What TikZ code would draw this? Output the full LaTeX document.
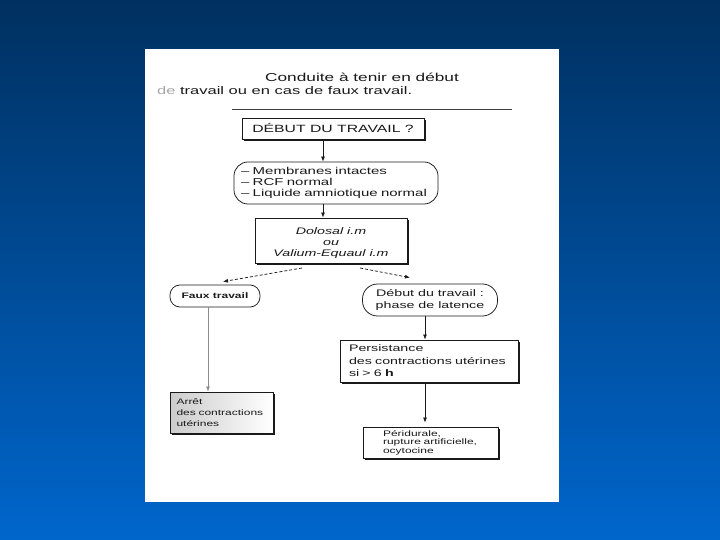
\documentclass[tikz,border=0pt]{standalone}
\usepackage{fontspec}
\setmainfont{Liberation Sans}[FakeStretch=1.5]
\usetikzlibrary{arrows.meta,shadows}
\definecolor{bgtop}{HTML}{003060}
\definecolor{bgbot}{HTML}{0066CC}
\definecolor{ink}{HTML}{1A1A1A}
\tikzset{
  box/.style={draw=ink, line width=0.9pt, fill=white, inner sep=0pt,
    drop shadow={shadow xshift=2.4pt, shadow yshift=-2.4pt, fill=ink, opacity=1}},
  oval/.style={draw=ink, line width=0.75pt, fill=white, inner sep=0pt},
  arr/.style={-{Latex[length=5pt,width=4pt]}, line width=0.75pt, draw=ink},
  darr/.style={arr, dash pattern=on 3pt off 2pt},
}
\begin{document}
\begin{tikzpicture}[x=1pt,y=-1pt, text=ink]
\useasboundingbox (0,0) rectangle (720,540);
\shade[top color=bgtop, bottom color=bgbot] (0,0) rectangle (720,540);
\fill[white] (145,49) rectangle (559,502);

% title
\node[anchor=base west, inner sep=0pt, font=\fontsize{11.5}{13}\selectfont] (t1) at (265,82) {Conduite à tenir en début};
\node[anchor=base west, inner sep=0pt, font=\fontsize{11}{13}\selectfont] (t2) at (157,95) {{\color{black!35}de} travail ou en cas de faux travail.};
\draw[line width=1pt, black!75] (232,110) -- (512,110);

% column coordinates
\coordinate (c1) at (323,0);
\coordinate (c2) at (425,0);
\coordinate (c3) at (208,0);

\node[box, minimum width=182pt, minimum height=21pt, font=\fontsize{10.5}{12}\selectfont] (debut) at (333,128.5) {DÉBUT DU TRAVAIL ?};

\node[oval, rounded corners=14pt, minimum width=204pt, minimum height=42pt, text width=190pt, align=left,
  font=\fontsize{10}{10.8}\selectfont] (memb) at (336,183) {– Membranes intactes\\– RCF normal\\– Liquide amniotique normal};

\node[box, minimum width=152pt, minimum height=45pt, align=center,
  font=\fontsize{9.5}{10.7}\selectfont\itshape] (dolo) at (331,240.5) {\rule{0pt}{12pt}Dolosal i.m\\ou\\Valium-Equaul i.m};

\node[oval, rounded corners=10pt, minimum width=90pt, minimum height=22pt,
  font=\fontsize{8}{9}\selectfont\bfseries] (faux) at (215,296) {Faux travail};

\node[oval, rounded corners=15pt, minimum width=135pt, minimum height=32pt, align=center,
  font=\fontsize{9.5}{11.5}\selectfont] (lat) at (430,300) {Début du travail :\\phase de latence};

\node[box, left color=black!20, right color=white, minimum width=103pt, minimum height=41pt, text width=90pt, align=left,
  font=\fontsize{8}{11}\selectfont] (arret) at (221.5,412.5) {Arrêt\\des contractions\\utérines};

\node[box, minimum width=178pt, minimum height=42pt, text width=160pt, align=left,
  font=\fontsize{9.5}{12.5}\selectfont] (pers) at (429,361) {Persistance\\des contractions utérines\\si > 6 \textbf{h}};

\node[box, minimum width=135pt, minimum height=31pt, text width=95pt, align=left,
  font=\fontsize{8}{8.6}\selectfont] (peri) at (430.5,442.5) {Péridurale,\\rupture artificielle,\\ocytocine};

% connectors
\coordinate (dl) at (302,268);
\coordinate (dr) at (360,268);
\draw[arr] (debut.south -| c1) -- (memb.north -| c1);
\draw[arr] (memb.south -| c1) -- (dolo.north -| c1);
\draw[darr] (dl) -- ([xshift=8pt,yshift=3pt]faux.north);
\draw[darr] (dr) -- ([xshift=-20pt,yshift=6pt]lat.north);
\draw[arr, draw=black!45] (faux.south -| c3) -- (arret.north -| c3);
\draw[arr] (lat.south -| c2) -- (pers.north -| c2);
\draw[arr] (pers.south -| c2) -- ([yshift=4pt]peri.north -| c2);
\end{tikzpicture}
\end{document}
